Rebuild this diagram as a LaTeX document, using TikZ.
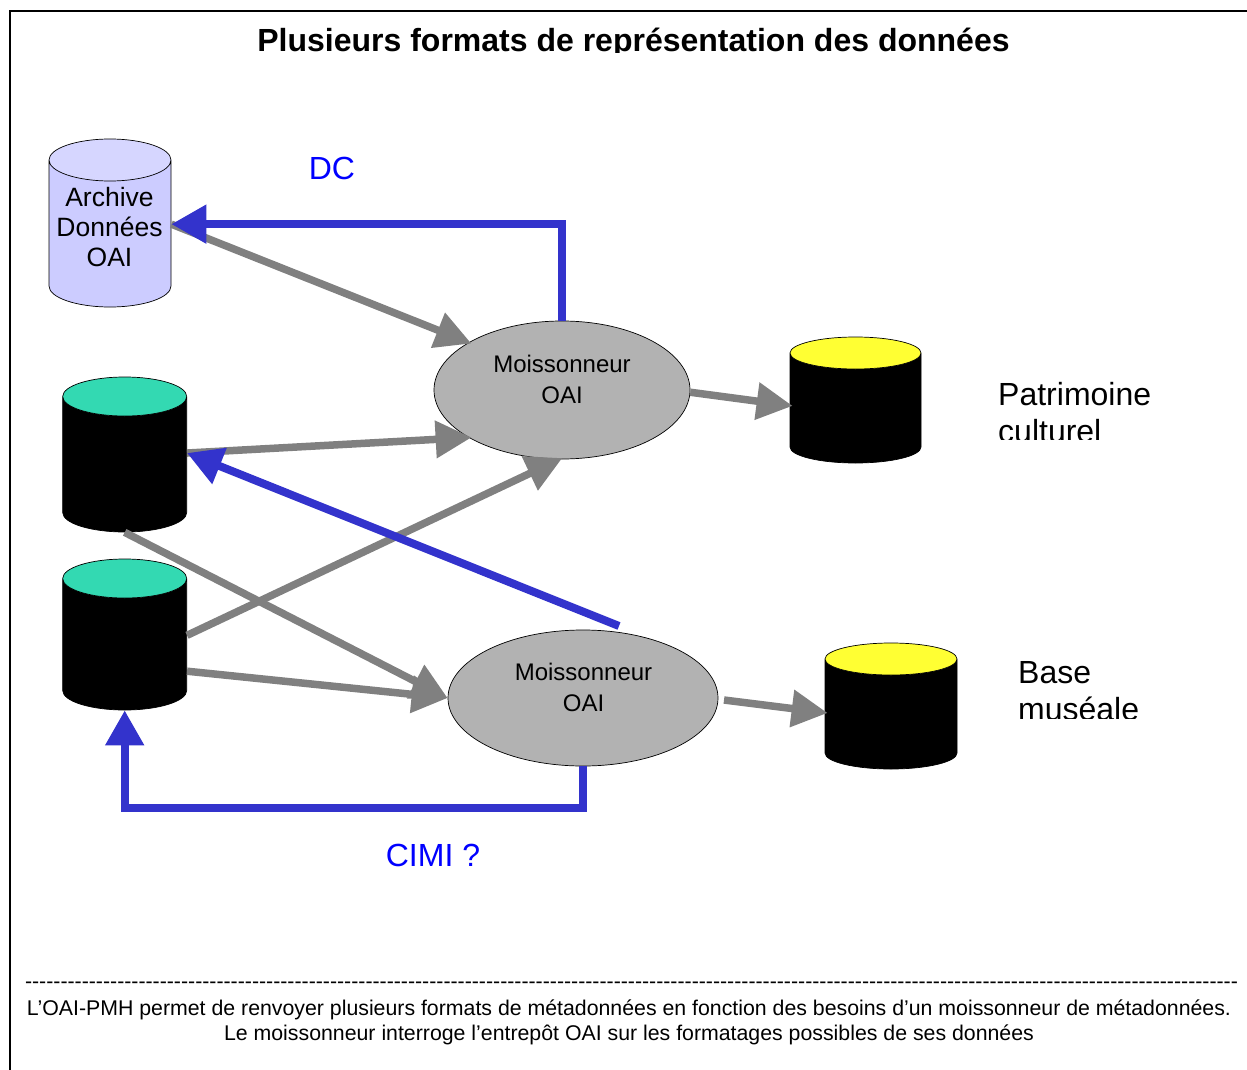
\documentclass[tikz,border=0pt]{standalone}
\usepackage{fontspec}
\setmainfont{Liberation Sans}
\newfontfamily\tiretfont{Liberation Sans}
\usetikzlibrary{arrows.meta}
\usetikzlibrary{shapes.geometric}
\definecolor{bleuoai}{RGB}{51,51,204}
\definecolor{grisoai}{RGB}{128,128,128}
\definecolor{grisbox}{RGB}{178,178,178}
\definecolor{vertbdd}{RGB}{51,217,178}
\definecolor{jaunebdd}{RGB}{255,255,51}
\definecolor{mauvebdd}{RGB}{204,204,255}
\definecolor{mauvetop}{RGB}{214,214,255}
\tikzset{
  bdd/.style={cylinder, shape border rotate=90, draw=black, line width=0.7pt, inner sep=10pt, anchor=shape center,
    cylinder uses custom fill, cylinder body fill=black, align=center},
  moissonneur/.style={ellipse, draw=black, line width=0.7pt, fill=grisbox, inner sep=0pt},
  moistxt/.style={inner sep=0pt, align=center, font=\fontsize{24}{30.5}\selectfont},
  fleche/.style={line width=7.5pt, color=grisoai, shorten >=-3pt, -{Triangle[length=36pt,width=36pt]}},
  retour/.style={line width=8pt, color=bleuoai, -{Triangle[length=35pt,width=37pt]}},
  etiquette/.style={inner sep=0pt, anchor=north west, align=left, font=\fontsize{32}{37}\selectfont},
  bleutxt/.style={inner sep=0pt, text=blue, font=\fontsize{32}{37}\selectfont},
}
\begin{document}
\begin{tikzpicture}[x=1pt,y=-1pt]
  \useasboundingbox (0,0) rectangle (1247,1070);
  \draw[line width=2pt] (1247,11) -- (10,11) -- (10,1070);
  \begin{scope}
    \clip (10,12) rectangle (1247,53);
    \node[inner sep=0pt, font=\fontsize{32}{37}\selectfont\bfseries] (titre) at (633.5,43) {Plusieurs formats de représentation des données};
  \end{scope}
  % bases
  \node[bdd, minimum width=122pt, minimum height=168pt, aspect=2.1, cylinder body fill=mauvebdd, cylinder end fill=mauvetop] (archive) at (110,223) {};
  \node[bdd, minimum width=124pt, minimum height=155pt, aspect=1.95, cylinder end fill=vertbdd] (bdda) at (124.7,454.5) {};
  \node[bdd, minimum width=124pt, minimum height=151pt, aspect=1.95, cylinder end fill=vertbdd] (bddb) at (124.7,634.5) {};
  \node[bdd, minimum width=131pt, minimum height=126pt, aspect=1.6, cylinder end fill=jaunebdd] (cible) at (855.5,400) {};
  \node[bdd, minimum width=132pt, minimum height=126pt, aspect=1.6, cylinder end fill=jaunebdd] (musee) at (891,706) {};
  \node[inner sep=0pt, align=center, font=\fontsize{26.5}{30}\selectfont] (archtxt) at (109.5,227) {Archive\\Données\\OAI};
  % moissonneurs
  \node[moissonneur, minimum width=256pt, minimum height=138pt] (moisa) at (562,390) {};
  \node[moissonneur, minimum width=270pt, minimum height=136pt] (moisb) at (583,698) {};
  \node[moistxt] (moisatxt) at (562,379.5) {Moissonneur\\OAI};
  \node[moistxt] (moisbtxt) at (583.5,687.5) {Moissonneur\\OAI};
  \coordinate (departb) at (724,700);
  \coordinate (departc) at (619,626);
  % fleches
  \draw[fleche] (archive.14.7) -- (moisa.153);
  \draw[fleche] (bdda.15.3) -- (moisa.207);
  \draw[fleche] (bddb.13.6) -- (moisa.268);
  \draw[fleche, shorten >=0pt] (bdda.south) -- (moisb.west);
  \draw[fleche, shorten >=0pt] (bddb.-19.5) -- (moisb.west);
  \draw[fleche] (moisa.-1) -- (cible.174);
  \draw[fleche] (departb) -- (musee.175.7);
  \draw[retour] (moisa.north) |- (archive.14.7);
  \draw[retour] (departc) -- (bdda.15.3);
  \draw[retour] (moisb.south) -- ++(0,42) -| (bddb.south);
  % textes
  \node[bleutxt] (dc) at (332,168) {DC};
  \node[bleutxt] (cimi) at (433,855) {CIMI ?};
  \begin{scope}
    \clip (990,370) rectangle (1200,439);
    \node[etiquette] (patrimoine) at (998,382) {Patrimoine\\culturel};
  \end{scope}
  \begin{scope}
    \clip (1010,650) rectangle (1200,718);
    \node[etiquette] (base) at (1018,661) {Base\\muséale};
  \end{scope}
  \node[inner sep=0pt, font=\fontsize{21.3}{25}\selectfont\tiretfont] (tirets) at (631.5,985) {---------------------------------------------------------------------------------------------------------------------------------------------------------------------------};
  \node[inner sep=0pt, align=center, font=\fontsize{21.3}{25}\selectfont] (note) at (629,1022) {L’OAI-PMH permet de renvoyer plusieurs formats de métadonnées en fonction des besoins d’un moissonneur de métadonnées.\\Le moissonneur interroge l’entrepôt OAI sur les formatages possibles de ses données};
\end{tikzpicture}
\end{document}
